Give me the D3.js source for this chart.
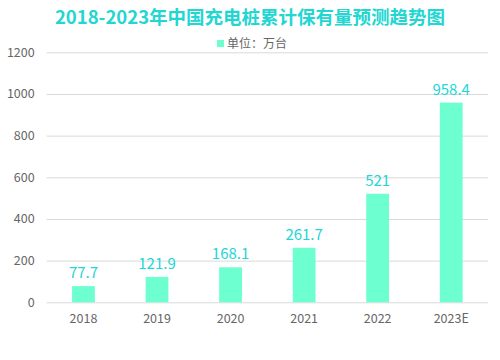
<!DOCTYPE html>
<html><head><meta charset="utf-8">
<script src="https://cdn.jsdelivr.net/npm/d3@7"></script>
<style>body{margin:0;background:#fff;}svg{display:block;}</style>
</head><body>
<script>
const categories = ["2018","2019","2020","2021","2022","2023E"];
const values = [77.7,121.9,168.1,261.7,521,958.4];
const valueLabels = ["77.7","121.9","168.1","261.7","521","958.4"];
const yTicks = [0,200,400,600,800,1000,1200];
const title = "2018-2023年中国充电桩累计保有量预测趋势图";
const legendLabel = "单位：万台";

const W=500,H=360;
const font = "'Noto Sans CJK SC','Noto Sans',sans-serif";
const svg = d3.select("body").append("svg").attr("width",W).attr("height",H);
const m = {left:46.7,right:12,top:52.3,bottom:57.7};
const x = d3.scaleBand().domain(categories).range([m.left,W-m.right]).paddingInner(0.69).paddingOuter(0.345);
const y = d3.scaleLinear().domain([0,1200]).range([H-m.bottom,m.top]);

svg.append("text").attr("x",250).attr("y",23.5).attr("text-anchor","middle")
  .attr("font-family",font).attr("font-size",18.5).attr("font-weight","bold")
  .attr("fill","#22d6d2").text(title);

const lg = svg.append("g");
lg.append("rect").attr("x",217).attr("y",40).attr("width",7).attr("height",7).attr("fill","#6dffd0");
lg.append("text").attr("x",227).attr("y",47.5).attr("font-family",font).attr("font-size",12)
  .attr("fill","#666").text(legendLabel);

const gy = svg.append("g").attr("transform",`translate(${m.left},0)`)
  .call(d3.axisLeft(y).tickValues(yTicks).tickFormat(d3.format("d")).tickSize(-(W-m.left-m.right)).tickPadding(12));
gy.select(".domain").remove();
gy.selectAll(".tick line").attr("stroke","#d9d9d9");
gy.selectAll(".tick text").attr("font-family",font).attr("font-size",12.5).attr("fill","#666");

const gx = svg.append("g").attr("transform",`translate(0,${H-m.bottom})`)
  .call(d3.axisBottom(x).tickSize(0).tickPadding(12));
gx.select(".domain").remove();
gx.selectAll(".tick text").attr("font-family",font).attr("font-size",12.5).attr("fill","#666");

svg.selectAll("rect.bar").data(values).join("rect").attr("class","bar")
  .attr("x",(d,i)=>x(categories[i])).attr("width",x.bandwidth())
  .attr("y",d=>y(d)).attr("height",d=>y(0)-y(d)).attr("fill","#6dffd0");

svg.selectAll("text.val").data(values).join("text").attr("class","val")
  .attr("x",(d,i)=>x(categories[i])+x.bandwidth()/2).attr("y",d=>y(d)-8)
  .attr("text-anchor","middle").attr("font-family",font).attr("font-size",15)
  .attr("fill","#22d6d6").text((d,i)=>valueLabels[i]);
</script>
</body></html>
